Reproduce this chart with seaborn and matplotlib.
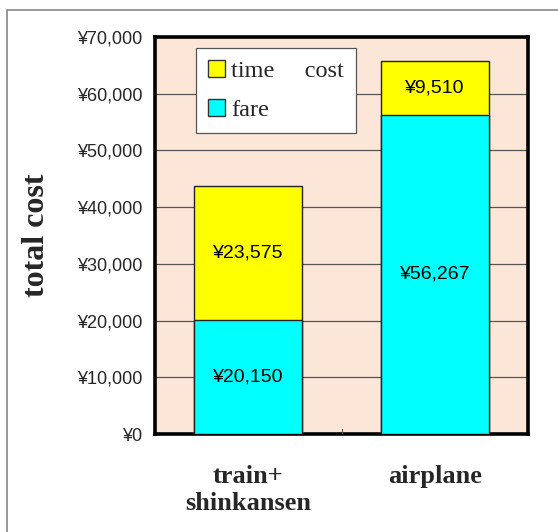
import matplotlib
matplotlib.use("Agg")
from matplotlib import pyplot as plt
from matplotlib.patches import Patch, Rectangle
import pandas as pd
import seaborn as sns

# values
routes = ["train+\nshinkansen", "airplane"]
fare = [20150, 56267]
time_cost = [23575, 9510]
yticks = [0, 10000, 20000, 30000, 40000, 50000, 60000, 70000]

df = pd.DataFrame({"route": routes, "fare": fare, "time_cost": time_cost})
df["total"] = df["fare"] + df["time_cost"]

sns.set_style("white")
plt.rcParams["font.family"] = ["Liberation Sans", "DejaVu Sans"]

fig = plt.figure(figsize=(5.58, 5.32), dpi=100)
ax = fig.add_axes([0.2778, 0.1842, 0.6685, 0.7463])
ax.set_facecolor("#FCE6D8")

# stacked bars: total (yellow) underneath, fare (cyan) on top
sns.barplot(data=df, x="route", y="total", color="#FFFF00", width=0.58,
            edgecolor="#222222", linewidth=1.0, saturation=1, ax=ax, zorder=3)
sns.barplot(data=df, x="route", y="fare", color="#00FFFF", width=0.58,
            edgecolor="#222222", linewidth=1.0, saturation=1, ax=ax, zorder=3)

ax.set_xlim(-0.5, 1.5)
ax.set_ylim(0, 70000)
ax.set_yticks(yticks)
ax.set_yticklabels([f"¥{v:,}" for v in yticks], fontsize=13)
ax.yaxis.grid(True, color="#555555", linewidth=0.9, zorder=0)
ax.set_axisbelow(True)
ax.tick_params(axis="y", length=0, pad=9)
ax.tick_params(axis="x", length=0, pad=22)
for lbl in ax.get_xticklabels():
    lbl.set_fontfamily("Liberation Serif")
    lbl.set_fontweight("bold")
    lbl.set_fontsize(19)
    lbl.set_linespacing(1.25)

ax.set_xlabel("")
ax.set_ylabel("total cost", fontfamily="Liberation Serif", fontweight="bold",
              fontsize=23, labelpad=19)

for sp in ax.spines.values():
    sp.set_visible(True)
    sp.set_color("black")
    sp.set_linewidth(2.6)

# small tick between the two categories on the bottom axis
ax.plot([0.5, 0.5], [0, 900], color="#555555", linewidth=0.8, zorder=4)

# value labels
for i in range(len(routes)):
    ax.text(i, fare[i] / 2, f"¥{fare[i]:,}", ha="center", va="center",
            fontsize=14, color="black", zorder=5)
    ax.text(i, fare[i] + time_cost[i] / 2, f"¥{time_cost[i]:,}", ha="center",
            va="center", fontsize=14, color="black", zorder=5)

handles = [Patch(facecolor="#FFFF00", edgecolor="#333333", label="time\u3000 cost"),
           Patch(facecolor="#00FFFF", edgecolor="#333333", label="fare")]
leg = ax.legend(handles=handles, loc="upper left", bbox_to_anchor=(0.11, 0.972),
                borderaxespad=0, frameon=True, fancybox=False, edgecolor="#555555",
                framealpha=1,
                prop={"family": ["Liberation Serif", "Noto Sans CJK JP"], "size": 17.5},
                handlelength=0.7, handleheight=0.7, handletextpad=0.25,
                borderpad=0.5, labelspacing=0.7)
leg.get_frame().set_linewidth(0.9)
leg.set_zorder(6)

# outer frame of the picture
fig.patches.append(Rectangle((7 / 558, -0.1), 1.2, 522 / 532 + 0.1,
                             transform=fig.transFigure, fill=False,
                             edgecolor="#888888", linewidth=1.2))

fig.savefig("out.png", dpi=100)
